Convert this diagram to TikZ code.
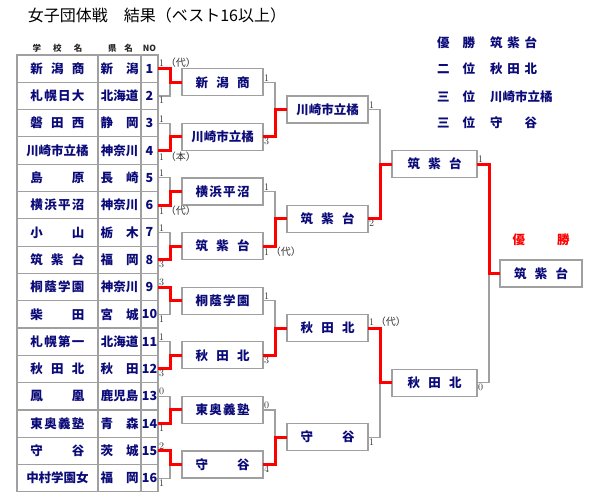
\documentclass[tikz,border=0pt]{standalone}
\usepackage{fontspec}
\newfontfamily\jp{Noto Sans CJK JP}
\usetikzlibrary{positioning}

\definecolor{navy}{RGB}{10,10,120}
\definecolor{linegray}{RGB}{160,160,160}

% spread names over a fixed width
\newcommand\sname[1]{\makebox[54pt]{#1}}
\newcommand\pname[1]{\makebox[38pt]{#1}}

\tikzset{
  cell/.style={draw=linegray, line width=1.2pt, minimum height=27.3pt,
    inner sep=0pt, outer sep=0pt, text=navy,
    font=\jp\bfseries\fontsize{12.5}{14}\selectfont},
  box/.style={cell, fill=white, minimum width=81pt, minimum height=27pt},
  win/.style={draw=red, line width=3pt, line join=miter},
  lose/.style={draw=linegray, line width=1.2pt},
  score/.style={font=\fontsize{10}{11}\selectfont, text=black!80, inner sep=1pt},
  head/.style={font=\jp\bfseries\fontsize{8.5}{9}\selectfont, text=black!85},
  legend/.style={font=\jp\bfseries\fontsize{12.5}{14}\selectfont, text=navy, inner sep=0pt}
}

\begin{document}
\begin{tikzpicture}[x=1pt,y=-1pt]
\useasboundingbox (0,0) rectangle (600,500);

\node[font=\jp\fontsize{16}{18}\selectfont] (title) at (157,15) {女子団体戦　結果（ベスト16以上）};

% table header
\node[head] (hs) at (57.5,48) {\makebox[50pt]{学\hfill 校\hfill 名}};
\node[head] (hp) at (120.5,48) {\makebox[25pt]{県\hfill 名}};
\node[head] (hn) at (149.5,48) {NO};

% table
\foreach \sch/\pre [count=\i] in {
  {\sname{新\hfill 潟\hfill 商}}/{\pname{新\hfill 潟}},
  {\sname{札\hfill 幌\hfill 日\hfill 大}}/{\pname{北海道}},
  {\sname{磐\hfill 田\hfill 西}}/{\pname{静\hfill 岡}},
  {川崎市立橘}/{\pname{神奈川}},
  {\sname{島\hfill 原}}/{\pname{長\hfill 崎}},
  {\sname{横\hfill 浜\hfill 平\hfill 沼}}/{\pname{神奈川}},
  {\sname{小\hfill 山}}/{\pname{栃\hfill 木}},
  {\sname{筑\hfill 紫\hfill 台}}/{\pname{福\hfill 岡}},
  {\sname{桐\hfill 蔭\hfill 学\hfill 園}}/{\pname{神奈川}},
  {\sname{柴\hfill 田}}/{\pname{宮\hfill 城}},
  {\sname{札\hfill 幌\hfill 第\hfill 一}}/{\pname{北海道}},
  {\sname{秋\hfill 田\hfill 北}}/{\pname{秋\hfill 田}},
  {\sname{鳳\hfill 凰}}/{\pname{鹿児島}},
  {\sname{東\hfill 奥\hfill 義\hfill 塾}}/{\pname{青\hfill 森}},
  {\sname{守\hfill 谷}}/{\pname{茨\hfill 城}},
  {中村学園女}/{\pname{福\hfill 岡}}}
{
  \pgfmathsetmacro\y{55+27.3*(\i-0.5)}
  \node[cell, minimum width=81pt] (s\i) at (57.5,\y) {\sch};
  \node[cell, minimum width=43pt, right=0pt of s\i] (p\i) {\pre};
  \node[cell, minimum width=17pt, right=0pt of p\i] (n\i) {\i};
}

% second round
\node[box] (b1) at (222.5,82.3) {\sname{新\hfill 潟\hfill 商}};
\node[box] (b2) at (222.5,136.9) {川崎市立橘};
\node[box] (b3) at (222.5,191.5) {\sname{横\hfill 浜\hfill 平\hfill 沼}};
\node[box] (b4) at (222.5,246.1) {\sname{筑\hfill 紫\hfill 台}};
\node[box] (b5) at (222.5,300.7) {\sname{桐\hfill 蔭\hfill 学\hfill 園}};
\node[box] (b6) at (222.5,355.3) {\sname{秋\hfill 田\hfill 北}};
\node[box] (b7) at (222.5,409.9) {\sname{東\hfill 奥\hfill 義\hfill 塾}};
\node[box] (b8) at (222.5,464.5) {\sname{守\hfill 谷}};

% quarter finals
\node[box] (c1) at (327.5,109.6) {川崎市立橘};
\node[box] (c2) at (327.5,218.8) {\sname{筑\hfill 紫\hfill 台}};
\node[box] (c3) at (327.5,328.0) {\sname{秋\hfill 田\hfill 北}};
\node[box] (c4) at (327.5,437.2) {\sname{守\hfill 谷}};

% semi finals and final
\node[box, minimum width=85pt] (d1) at (434.5,164.2) {\sname{筑\hfill 紫\hfill 台}};
\node[box, minimum width=85pt] (d2) at (434.5,382.6) {\sname{秋\hfill 田\hfill 北}};
\node[box, minimum width=82pt] (f) at (541,273.4) {\sname{筑\hfill 紫\hfill 台}};
\node[legend, text=red] (champ) at (541,240) {\makebox[57pt]{優\hfill 勝}};

% bracket lines: loser/winner/next
\foreach \l/\w/\t in {n2/n1/b1, n3/n4/b2, n5/n6/b3, n7/n8/b4,
  n10/n9/b5, n11/n12/b6, n13/n14/b7, n16/n15/b8,
  b1/b2/c1, b3/b4/c2, b5/b6/c3, b7/b8/c4,
  c1/c2/d1, c4/c3/d2, d2/d1/f}
{
  \draw[lose] (\l.east) -- ++(12,0) |- (\t.west);
  \draw[win] (\w.east) -- ++(12,0) |- (\t.west);
}

% scores
\node[score, anchor=south west] (t1) at (n1.east) {1\,{\jp（代）}};
\node[score, anchor=north west] (t2) at (n2.east) {1};
\node[score, anchor=south west] (t3) at (n3.east) {1};
\node[score, anchor=north west] (t4) at (n4.east) {1\,{\jp（本）}};
\node[score, anchor=south west] (t5) at (n5.east) {1};
\node[score, anchor=north west] (t6) at (n6.east) {1\,{\jp（代）}};
\node[score, anchor=south west] (t7) at (n7.east) {1};
\node[score, anchor=north west] (t8) at (n8.east) {3};
\node[score, anchor=south west] (t9) at (n9.east) {3};
\node[score, anchor=north west] (t10) at (n10.east) {1};
\node[score, anchor=south west] (t11) at (n11.east) {1};
\node[score, anchor=north west] (t12) at (n12.east) {3};
\node[score, anchor=south west] (t13) at (n13.east) {0};
\node[score, anchor=north west] (t14) at (n14.east) {1};
\node[score, anchor=south west] (t15) at (n15.east) {2};
\node[score, anchor=north west] (t16) at (n16.east) {1};

\node[score, anchor=south west] (u1) at (b1.east) {1};
\node[score, anchor=north west] (u2) at (b2.east) {3};
\node[score, anchor=south west] (u3) at (b3.east) {1};
\node[score, anchor=north west] (u4) at (b4.east) {1\,{\jp（代）}};
\node[score, anchor=south west] (u5) at (b5.east) {1};
\node[score, anchor=north west] (u6) at (b6.east) {3};
\node[score, anchor=south west] (u7) at (b7.east) {0};
\node[score, anchor=north west] (u8) at (b8.east) {4};

\node[score, anchor=south west] (v1) at (c1.east) {1};
\node[score, anchor=north west] (v2) at (c2.east) {2};
\node[score, anchor=south west] (v3) at (c3.east) {1\,{\jp（代）}};
\node[score, anchor=north west] (v4) at (c4.east) {1};

\node[score, anchor=south west] (w1) at (d1.east) {1};
\node[score, anchor=north west] (w2) at (d2.east) {0};

% results
\node[legend, anchor=west] (r1) at (437,42.7) {\makebox[38pt]{優\hfill 勝}\hspace{15pt}\makebox[47pt]{筑\hfill 紫\hfill 台}};
\node[legend, anchor=west] (r2) at (437,68.3) {\makebox[38pt]{二\hfill 位}\hspace{15pt}\makebox[47pt]{秋\hfill 田\hfill 北}};
\node[legend, anchor=west] (r3) at (437,96.7) {\makebox[38pt]{三\hfill 位}\hspace{15pt}川崎市立橘};
\node[legend, anchor=west] (r4) at (437,122.7) {\makebox[38pt]{三\hfill 位}\hspace{15pt}\makebox[47pt]{守\hfill 谷}};

\end{tikzpicture}
\end{document}
